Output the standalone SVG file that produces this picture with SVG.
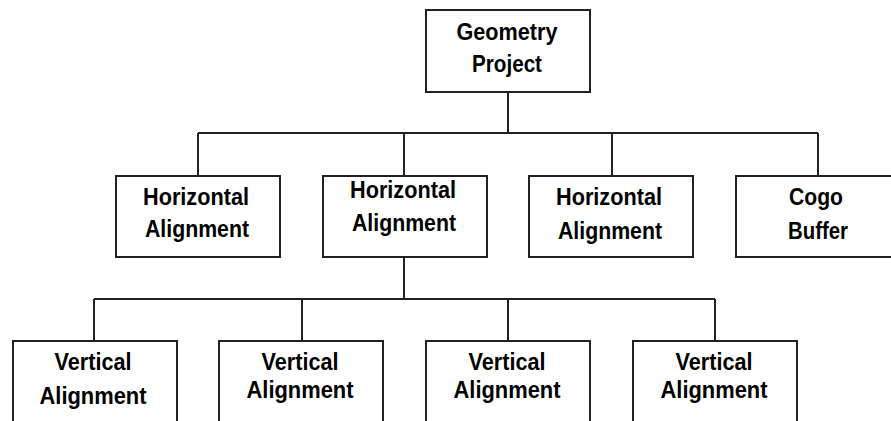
<svg xmlns="http://www.w3.org/2000/svg" width="891" height="421" viewBox="0 0 891 421">
<style>
.box{fill:#fff;stroke:#222;stroke-width:2}
.ln{fill:none;stroke:#222;stroke-width:2}
text{font-family:"Liberation Sans",Arial,sans-serif;font-weight:bold;font-size:24px;fill:#000;text-anchor:middle}
</style>
<rect width="891" height="421" fill="#fff"/>
<g id="connectors">
<path class="ln" d="M508 92V133M198 133H818M198 133V175M404 133V175M612 133V175M818 133V175"/>
<path class="ln" d="M404 257V299M94 299H715M94 299V340M302 299V340M508 299V340M715 299V340"/>
</g>
<g id="geometry-project">
<rect class="box" x="426" y="10" width="164" height="82"/>
<text x="507" y="40" textLength="101" lengthAdjust="spacingAndGlyphs">Geometry</text>
<text x="507" y="72" textLength="70" lengthAdjust="spacingAndGlyphs">Project</text>
</g>
<g id="horizontal-alignment-1">
<rect class="box" x="116" y="176" width="164" height="81"/>
<text x="196" y="205" textLength="106" lengthAdjust="spacingAndGlyphs">Horizontal</text>
<text x="197" y="237" textLength="104" lengthAdjust="spacingAndGlyphs">Alignment</text>
</g>
<g id="horizontal-alignment-2">
<rect class="box" x="323" y="176" width="164" height="81"/>
<text x="403" y="198" textLength="106" lengthAdjust="spacingAndGlyphs">Horizontal</text>
<text x="404" y="231" textLength="104" lengthAdjust="spacingAndGlyphs">Alignment</text>
</g>
<g id="horizontal-alignment-3">
<rect class="box" x="529" y="176" width="164" height="81"/>
<text x="609" y="205" textLength="106" lengthAdjust="spacingAndGlyphs">Horizontal</text>
<text x="610" y="239" textLength="104" lengthAdjust="spacingAndGlyphs">Alignment</text>
</g>
<g id="cogo-buffer">
<rect class="box" x="736" y="176" width="164" height="81"/>
<text x="816" y="205" textLength="54" lengthAdjust="spacingAndGlyphs">Cogo</text>
<text x="818" y="239" textLength="60" lengthAdjust="spacingAndGlyphs">Buffer</text>
</g>
<g id="vertical-alignment-1">
<rect class="box" x="13" y="341" width="164" height="120"/>
<text x="93" y="370" textLength="77" lengthAdjust="spacingAndGlyphs">Vertical</text>
<text x="93" y="404" textLength="107" lengthAdjust="spacingAndGlyphs">Alignment</text>
</g>
<g id="vertical-alignment-2">
<rect class="box" x="219" y="341" width="164" height="120"/>
<text x="300" y="370" textLength="77" lengthAdjust="spacingAndGlyphs">Vertical</text>
<text x="300" y="398" textLength="107" lengthAdjust="spacingAndGlyphs">Alignment</text>
</g>
<g id="vertical-alignment-3">
<rect class="box" x="426" y="341" width="164" height="120"/>
<text x="507" y="370" textLength="77" lengthAdjust="spacingAndGlyphs">Vertical</text>
<text x="507" y="398" textLength="107" lengthAdjust="spacingAndGlyphs">Alignment</text>
</g>
<g id="vertical-alignment-4">
<rect class="box" x="633" y="341" width="164" height="120"/>
<text x="714" y="370" textLength="77" lengthAdjust="spacingAndGlyphs">Vertical</text>
<text x="714" y="398" textLength="107" lengthAdjust="spacingAndGlyphs">Alignment</text>
</g>
</svg>
